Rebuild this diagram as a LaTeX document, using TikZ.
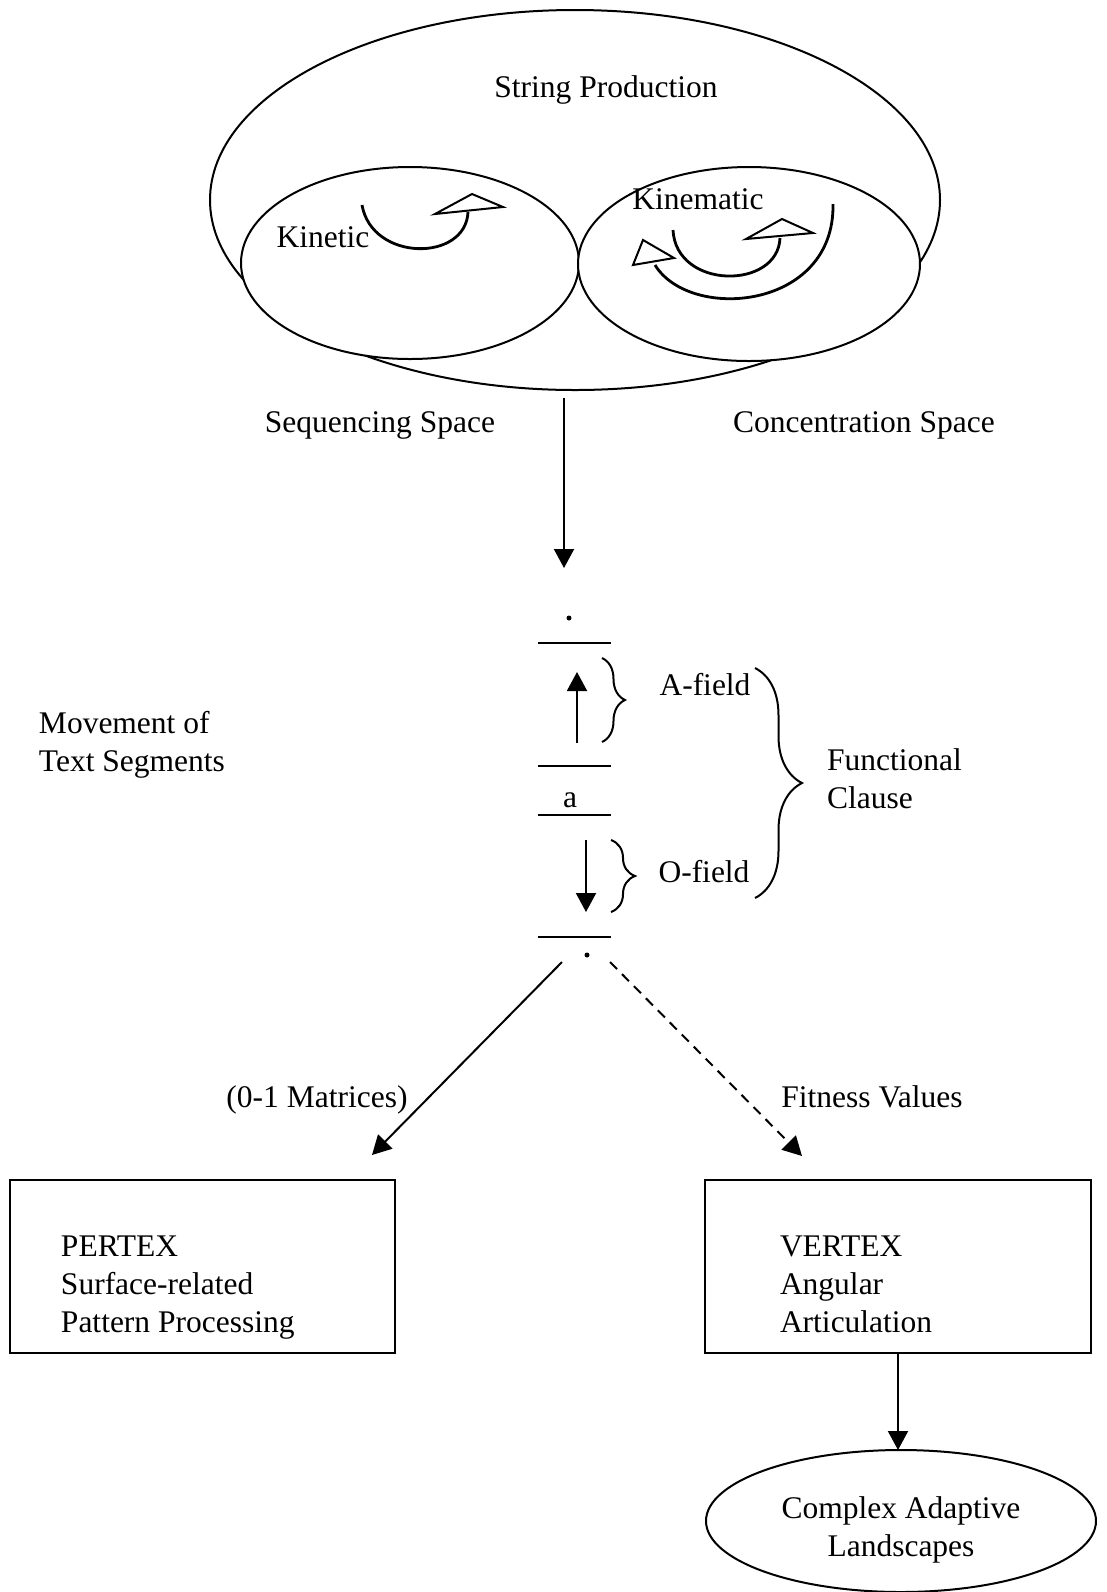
\documentclass[tikz,border=0pt]{standalone}
\usepackage{fontspec}
\setmainfont{Liberation Serif}
\usetikzlibrary{
    arrows.meta,
    shapes.geometric,
    decorations.pathreplacing,
    positioning
}
\tikzset{
    txt/.style={font=\fontsize{15.75}{19}\selectfont, inner sep=0pt},
    ring/.style={draw, ellipse, inner sep=0pt, outer sep=0pt},
    box/.style={draw, rectangle, inner sep=0pt, outer sep=0pt},
    dot/.style={circle, fill, inner sep=0pt, minimum size=2.5pt},
    turn/.style={line width=1.4pt},
    hollow/.style={draw, fill=white, line width=1pt, line join=miter},
    clause/.style={decorate, decoration={brace, amplitude=#1}},
    clause/.default=11.5pt
}

\begin{document}
\begin{tikzpicture}[x=0.5pt, y=-0.5pt, line width=1pt, >={Triangle[length=9.5pt, width=10pt]}]
    \useasboundingbox (0,0) rectangle (1107,1592);

    \node[ring, minimum width=365pt, minimum height=190pt] (prod) at (575,200) {};
    \node[ring, fill=white, minimum width=169pt, minimum height=96pt] (kinetic) at (410,263) {};
    \node[ring, fill=white, minimum width=171pt, minimum height=97pt] (kinematic) at (749,264) {};

    \node[txt] (prodlbl) at (606,90) {String Production};
    \node[txt] (kineticlbl) at (323,237) {Kinetic};
    \node[txt] (kinematiclbl) at (698,199) {Kinematic};

    \draw[turn] (362,205) .. controls (372,262) and (466,262) .. (468,212);
    \draw[hollow] (435,214) -- (472,194) -- (503,207) -- cycle;
    \draw[turn] (673,230) .. controls (676,290) and (778,290) .. (780,238);
    \draw[hollow] (746,239) -- (782,219) -- (813,233) -- cycle;
    \draw[turn] (833,204) .. controls (835,310) and (690,322) .. (655,265);
    \draw[hollow] (633,265) -- (643,240) -- (674,258) -- cycle;

    \node[txt] (seq) at (380,425) {Sequencing Space};
    \node[txt] (conc) at (864,425) {Concentration Space};

    \node[dot] (topdot) at (569,618) {};
    \node[dot] (botdot) at (587,955) {};
    \foreach \y in {643,766,815,937}
        \draw (538,\y) -- (611,\y);
    \node[txt] (alabel) at (570,800) {a};

    \coordinate (seqtop) at (564,398);
    \coordinate (seqend) at (564,568);
    \coordinate (upfoot) at (577,743);
    \coordinate (uptip) at (577,672);
    \coordinate (downfoot) at (586,840);
    \coordinate (downtip) at (586,912);
    \draw
    (seqtop) edge[->] (seqend)
    (upfoot) edge[->] (uptip)
    (downfoot) edge[->] (downtip);

    \draw[clause] (602,658) -- (602,742);
    \draw[clause=12pt] (611,840) -- (611,912);
    \draw[clause=23.5pt] (755,668) -- (755,898);

    \node[txt] (afield) at (705,685) {A-field};
    \node[txt] (ofield) at (704,872) {O-field};
    \node[txt, align=left, anchor=west] (func) at (826,779) {Functional\\Clause};
    \node[txt, align=left, anchor=west] (move) at (38,745) {Movement of\\Text Segments};

    \coordinate (matfoot) at (562,962);
    \coordinate (mattip) at (372,1155);
    \coordinate (fitfoot) at (610,962);
    \coordinate (fittip) at (802,1156);
    \node[txt] (matlbl) at (317,1100) {(0-1 Matrices)};
    \node[txt] (fitlbl) at (872,1097) {Fitness Values};

    \node[box, minimum width=192.5pt, minimum height=86.5pt] (pertex) at (202.5,1266.5) {};
    \node[txt, align=left, anchor=west] (pertexlbl) at (60,1288) {PERTEX\\Surface-related\\Pattern Processing};
    \node[box, minimum width=193pt, minimum height=86.5pt] (vertex) at (898,1266.5) {};
    \node[txt, align=left, anchor=west] (vertexlbl) at (779,1284) {VERTEX\\Angular\\Articulation};
    \node[ring, minimum width=195pt, minimum height=71pt] (landscape) at (901,1521) {};
    \node[txt, align=center] (landscapelbl) at (901,1530) {Complex Adaptive\\Landscapes};

    \draw
    (matfoot) edge[->] (mattip)
    (fitfoot) edge[->, dash pattern=on 5pt off 3.5pt] (fittip)
    (vertex.south) edge[->] (vertex.south |- landscape.north);
\end{tikzpicture}
\end{document}
